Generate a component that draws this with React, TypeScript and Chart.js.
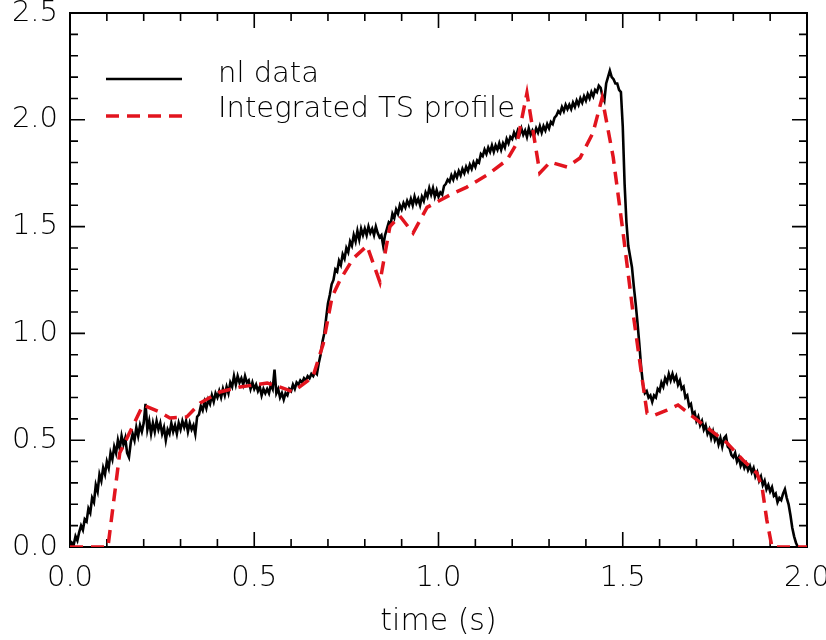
import React, { useEffect, useRef } from "react";
import { Chart, registerables } from "chart.js";

Chart.register(...registerables);

// ---- data ----
const NL_DT = 0.005; // sampling step (s) of the nl trace
const nlValues: number[] = [
  // 0.00 - 0.095
  0.00, 0.02, 0.01, 0.05, 0.03, 0.07, 0.10, 0.08, 0.13, 0.12, 0.18, 0.16, 0.23, 0.21, 0.29, 0.26, 0.34, 0.31, 0.37, 0.34,
  // 0.10 - 0.195
  0.40, 0.37, 0.44, 0.41, 0.47, 0.44, 0.50, 0.46, 0.52, 0.48, 0.51, 0.44, 0.42, 0.49, 0.53, 0.50, 0.56, 0.52, 0.57, 0.54,
  // 0.20 - 0.295
  0.58, 0.67, 0.55, 0.59, 0.53, 0.58, 0.54, 0.59, 0.55, 0.58, 0.53, 0.56, 0.50, 0.55, 0.53, 0.58, 0.54, 0.57, 0.53, 0.58,
  // 0.30 - 0.395
  0.55, 0.59, 0.56, 0.59, 0.54, 0.58, 0.55, 0.57, 0.53, 0.61, 0.62, 0.66, 0.64, 0.68, 0.65, 0.69, 0.67, 0.71, 0.68, 0.72,
  // 0.40 - 0.495
  0.70, 0.73, 0.70, 0.74, 0.71, 0.75, 0.72, 0.77, 0.75, 0.80, 0.76, 0.80, 0.77, 0.79, 0.76, 0.80, 0.77, 0.78, 0.74, 0.77,
  // 0.50 - 0.595
  0.74, 0.76, 0.73, 0.75, 0.71, 0.74, 0.72, 0.74, 0.72, 0.76, 0.74, 0.83, 0.72, 0.74, 0.70, 0.72, 0.69, 0.72, 0.71, 0.74,
  // 0.60 - 0.695
  0.73, 0.76, 0.74, 0.77, 0.76, 0.78, 0.77, 0.79, 0.78, 0.80, 0.79, 0.81, 0.80, 0.82, 0.81, 0.86, 0.90, 0.96, 1.00, 1.07,
  // 0.70 - 0.795
  1.14, 1.18, 1.23, 1.25, 1.30, 1.29, 1.34, 1.32, 1.37, 1.35, 1.40, 1.38, 1.43, 1.41, 1.46, 1.43, 1.48, 1.44, 1.49, 1.46,
  // 0.80 - 0.895
  1.49, 1.46, 1.50, 1.47, 1.49, 1.46, 1.50, 1.47, 1.45, 1.46, 1.41, 1.46, 1.49, 1.52, 1.51, 1.56, 1.54, 1.58, 1.56, 1.60,
  // 0.90 - 0.995
  1.58, 1.61, 1.59, 1.62, 1.60, 1.63, 1.60, 1.64, 1.61, 1.63, 1.60, 1.64, 1.62, 1.66, 1.64, 1.68, 1.65, 1.68, 1.64, 1.67,
  // 1.00 - 1.095
  1.64, 1.66, 1.65, 1.69, 1.70, 1.72, 1.71, 1.74, 1.72, 1.75, 1.73, 1.76, 1.74, 1.77, 1.75, 1.78, 1.76, 1.79, 1.77, 1.80,
  // 1.10 - 1.195
  1.78, 1.81, 1.80, 1.84, 1.83, 1.86, 1.84, 1.87, 1.85, 1.88, 1.85, 1.88, 1.86, 1.89, 1.86, 1.89, 1.87, 1.91, 1.89, 1.92,
  // 1.20 - 1.295
  1.91, 1.94, 1.92, 1.95, 1.93, 1.96, 1.93, 1.95, 1.92, 1.96, 1.93, 1.95, 1.93, 1.96, 1.94, 1.97, 1.94, 1.97, 1.95, 1.98,
  // 1.30 - 1.395
  1.96, 1.99, 1.98, 2.01, 2.02, 2.04, 2.03, 2.06, 2.04, 2.07, 2.05, 2.07, 2.05, 2.08, 2.06, 2.09, 2.07, 2.10, 2.08, 2.11,
  // 1.40 - 1.495
  2.09, 2.12, 2.10, 2.13, 2.11, 2.14, 2.13, 2.16, 2.15, 2.11, 2.09, 2.17, 2.20, 2.23, 2.20, 2.19, 2.17, 2.17, 2.14, 2.13,
  // 1.50 - 1.595
  1.97, 1.70, 1.52, 1.41, 1.36, 1.31, 1.22, 1.14, 1.05, 0.95, 0.84, 0.76, 0.72, 0.73, 0.70, 0.71, 0.68, 0.71, 0.70, 0.74,
  // 1.60 - 1.695
  0.73, 0.77, 0.75, 0.79, 0.77, 0.81, 0.78, 0.81, 0.78, 0.80, 0.76, 0.78, 0.74, 0.75, 0.70, 0.71, 0.66, 0.67, 0.62, 0.63,
  // 1.70 - 1.795
  0.59, 0.61, 0.57, 0.59, 0.55, 0.57, 0.53, 0.55, 0.51, 0.54, 0.50, 0.52, 0.48, 0.51, 0.47, 0.51, 0.52, 0.47, 0.46, 0.43,
  // 1.80 - 1.895
  0.42, 0.44, 0.40, 0.42, 0.38, 0.40, 0.37, 0.39, 0.36, 0.38, 0.35, 0.37, 0.33, 0.35, 0.31, 0.33, 0.29, 0.31, 0.27, 0.29,
  // 1.90 - 1.975
  0.26, 0.28, 0.24, 0.25, 0.21, 0.23, 0.22, 0.25, 0.27, 0.23, 0.20, 0.15, 0.09, 0.05, 0.02, 0.00,
];

const tsTimes: number[] = [
  0.0, 0.103, 0.135, 0.198, 0.244, 0.271, 0.317, 0.353, 0.407, 0.461, 0.497, 0.535, 0.578, 0.605, 0.659,
  0.687, 0.711, 0.733, 0.768, 0.806, 0.841, 0.868, 0.895, 0.931, 0.969, 1.031, 1.077, 1.132, 1.186, 1.213,
  1.240, 1.275, 1.303, 1.349, 1.384, 1.419, 1.444, 1.474, 1.501, 1.528, 1.552, 1.566, 1.588, 1.620, 1.650,
  1.691, 1.737, 1.783, 1.826, 1.864, 1.878, 1.891, 1.905, 2.0,
];
const tsValues: number[] = [
  0.0, 0.0, 0.44, 0.665, 0.632, 0.604, 0.609, 0.674, 0.726, 0.749, 0.758, 0.768, 0.744, 0.726, 0.796,
  0.95, 1.17, 1.25, 1.35, 1.41, 1.24, 1.50, 1.55, 1.47, 1.59, 1.648, 1.685, 1.742, 1.812, 1.891,
  2.125, 1.751, 1.802, 1.779, 1.821, 1.938, 2.102, 1.826, 1.47, 1.095, 0.796, 0.627, 0.618, 0.641, 0.665,
  0.609, 0.548, 0.487, 0.407, 0.346, 0.281, 0.126, 0.0, 0.0,
];

const xTickValues: number[] = [0.0, 0.5, 1.0, 1.5, 2.0];
const yTickValues: number[] = [0.0, 0.5, 1.0, 1.5, 2.0, 2.5];
const seriesNames: string[] = ["nl data", "Integrated TS profile"];
const xTitle = "time (s)";

const RED = "#e2141e";
const FONT = "'DejaVu Sans', 'Liberation Sans', sans-serif";
const WEIGHT = 200;

const frameAndTicks = {
  id: "frameAndTicks",
  beforeDatasetsDraw(chart: any) {
    const { ctx, chartArea: a, scales } = chart;
    const xs = scales.x;
    const ys = scales.y;
    ctx.save();
    ctx.strokeStyle = "#000";
    ctx.lineWidth = 2;
    ctx.strokeRect(a.left, a.top, a.right - a.left, a.bottom - a.top);
    ctx.lineWidth = 1.6;
    ctx.beginPath();
    for (let i = 0; i <= 20; i++) {
      const v = i / 10;
      const px = xs.getPixelForValue(v);
      const len = i % 5 === 0 ? 15 : 8;
      ctx.moveTo(px, a.bottom);
      ctx.lineTo(px, a.bottom - len);
      ctx.moveTo(px, a.top);
      ctx.lineTo(px, a.top + len);
    }
    for (let i = 0; i <= 25; i++) {
      const v = i / 10;
      const py = ys.getPixelForValue(v);
      const len = i % 5 === 0 ? 15 : 8;
      ctx.moveTo(a.left, py);
      ctx.lineTo(a.left + len, py);
      ctx.moveTo(a.right, py);
      ctx.lineTo(a.right - len, py);
    }
    ctx.stroke();
    ctx.restore();
  },
  afterDatasetsDraw(chart: any) {
    const { ctx } = chart;
    ctx.save();
    // legend
    ctx.lineWidth = 2.5;
    ctx.strokeStyle = "#000";
    ctx.setLineDash([]);
    ctx.beginPath();
    ctx.moveTo(106, 79);
    ctx.lineTo(182, 79);
    ctx.stroke();
    ctx.strokeStyle = RED;
    ctx.lineWidth = 3.5;
    ctx.setLineDash([13, 8]);
    ctx.beginPath();
    ctx.moveTo(106, 116);
    ctx.lineTo(182, 116);
    ctx.stroke();
    ctx.setLineDash([]);
    ctx.fillStyle = "#000";
    ctx.font = `${WEIGHT} 29px ${FONT}`;
    ctx.textAlign = "left";
    ctx.textBaseline = "alphabetic";
    ctx.fillText(seriesNames[0], 218, 82);
    ctx.fillText(seriesNames[1], 218, 117);
    ctx.restore();
  },
};

export default function App() {
  const ref = useRef<HTMLCanvasElement | null>(null);

  useEffect(() => {
    document.body.style.margin = "0";
    const canvas = ref.current;
    if (!canvas) return;
    const nlData = nlValues.map((v, i) => ({ x: i * NL_DT, y: v }));
    const tsData = tsTimes.map((t, i) => ({ x: t, y: tsValues[i] }));
    const chart = new Chart(canvas, {
      type: "line",
      data: {
        datasets: [
          {
            label: seriesNames[0],
            data: nlData,
            borderColor: "#000",
            borderWidth: 2.6,
            pointRadius: 0,
            tension: 0,
            order: 1,
          },
          {
            label: seriesNames[1],
            data: tsData,
            borderColor: RED,
            borderWidth: 3.5,
            borderDash: [13, 8],
            pointRadius: 0,
            tension: 0,
            order: 0,
          },
        ],
      },
      options: {
        animation: false,
        responsive: false,
        maintainAspectRatio: false,
        layout: { padding: { top: 13, right: 19, left: 0, bottom: 0 } },
        plugins: {
          legend: { display: false },
          tooltip: { enabled: false },
        },
        scales: {
          x: {
            type: "linear",
            min: 0,
            max: 2,
            afterBuildTicks: (s: any) => {
              s.ticks = xTickValues.map((v) => ({ value: v }));
            },
            afterFit: (s: any) => {
              s.height = 93;
              s.paddingLeft = 0;
              s.paddingRight = 0;
            },
            grid: { display: false, drawTicks: false },
            border: { display: false },
            ticks: {
              padding: 14,
              maxRotation: 0,
              autoSkip: false,
              color: "#000",
              font: { family: FONT, size: 29, weight: WEIGHT },
              callback: (v: any) => Number(v).toFixed(1),
            },
            title: {
              display: true,
              text: xTitle,
              color: "#000",
              padding: { top: 2, bottom: 0 },
              font: { family: FONT, size: 30, weight: WEIGHT },
            },
          },
          y: {
            type: "linear",
            min: 0,
            max: 2.5,
            afterBuildTicks: (s: any) => {
              s.ticks = yTickValues.map((v) => ({ value: v }));
            },
            afterFit: (s: any) => {
              s.width = 70;
              s.paddingTop = 0;
              s.paddingBottom = 0;
            },
            grid: { display: false, drawTicks: false },
            border: { display: false },
            ticks: {
              padding: 12,
              autoSkip: false,
              color: "#000",
              font: { family: FONT, size: 29, weight: WEIGHT },
              callback: (v: any) => Number(v).toFixed(1),
            },
          },
        },
      },
      plugins: [frameAndTicks],
    });
    return () => chart.destroy();
  }, []);

  return (
    <div style={{ position: "absolute", left: 0, top: 0, width: 826, height: 640, background: "#fff" }}>
      <canvas ref={ref} width={826} height={640} style={{ width: 826, height: 640, display: "block" }} />
    </div>
  );
}
